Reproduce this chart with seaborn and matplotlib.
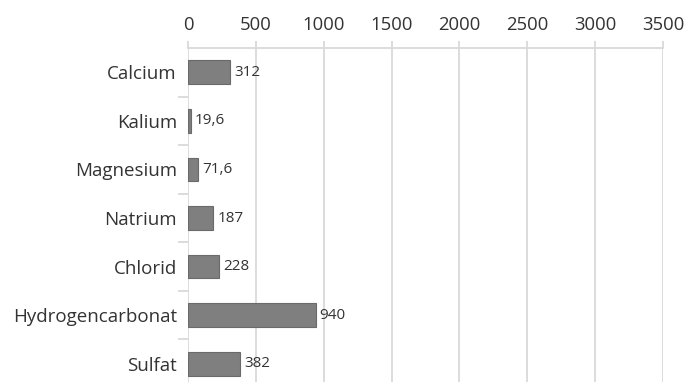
import matplotlib
matplotlib.use("Agg")
import matplotlib.pyplot as plt
import seaborn as sns
import pandas as pd
import numpy as np

categories = ["Calcium", "Kalium", "Magnesium", "Natrium", "Chlorid", "Hydrogencarbonat", "Sulfat"]
values = [312, 19.6, 71.6, 187, 228, 940, 382]
value_labels = ["312", "19,6", "71,6", "187", "228", "940", "382"]
x_ticks = [0, 500, 1000, 1500, 2000, 2500, 3000, 3500]

sns.set_theme(style="white")
plt.rcParams["font.family"] = ["Open Sans", "DejaVu Sans"]

df = pd.DataFrame({"Ion": categories, "Wert": values})

W, H = 687, 382
fig = plt.figure(figsize=(W / 100, H / 100), dpi=100)
left, right, top, bottom = 188, 663, 48, 388
ax = fig.add_axes([left / W, 1 - bottom / H, (right - left) / W, (bottom - top) / H])

sns.barplot(data=df, y="Ion", x="Wert", orient="h", color="#7f7f7f",
            saturation=1, width=0.49, edgecolor="#6a6a6a", linewidth=0.8, ax=ax, zorder=3)

ax.set_xlim(0, 3500)
ax.set_ylim(len(categories) - 0.5, -0.5)
ax.set_xticks(x_ticks)
ax.set_xticklabels([str(t) for t in x_ticks])
ax.xaxis.tick_top()
ax.set_xlabel("")
ax.set_ylabel("")

ax.grid(axis="x", color="#d9d9d9", linewidth=1.3, zorder=0)
ax.grid(axis="y", visible=False)
for s in ["left", "right", "bottom"]:
    ax.spines[s].set_visible(False)
ax.spines["top"].set_color("#d9d9d9")
ax.spines["top"].set_linewidth(1.3)

ax.tick_params(axis="x", which="major", top=True, length=5, width=1.3, color="#d9d9d9",
               labelsize=13.3, labelcolor="#333333", pad=5)
ax.tick_params(axis="y", which="major", left=False, labelsize=13.5, labelcolor="#333333", pad=2)
ax.set_yticks(np.arange(len(categories) - 1) + 0.5, minor=True)
ax.tick_params(axis="y", which="minor", left=True, length=7, width=1.3, color="#d9d9d9")

for i, (v, lab) in enumerate(zip(values, value_labels)):
    ax.text(v + 30, i, lab, va="center", ha="left", fontsize=11, color="#333333")

fig.savefig("out.png", dpi=100)
